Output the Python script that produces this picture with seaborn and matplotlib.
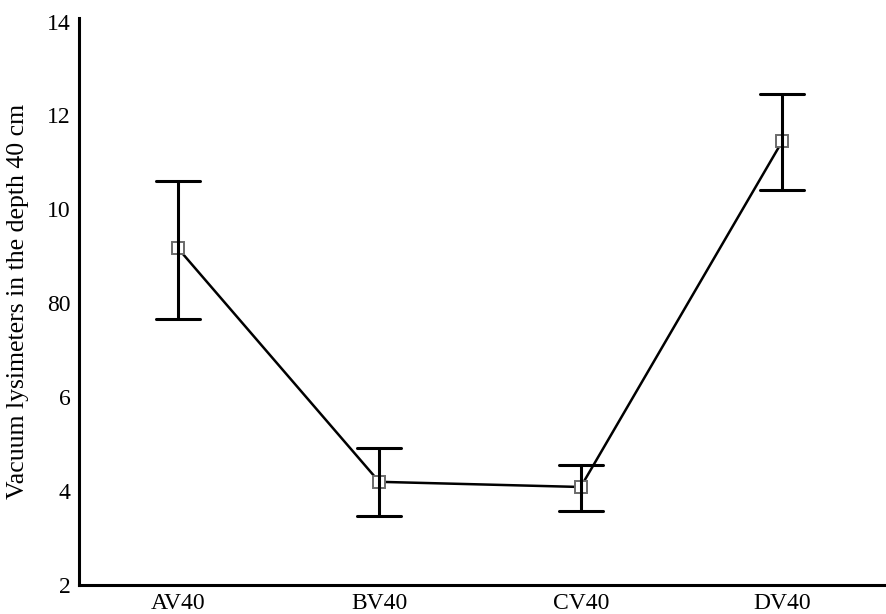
import matplotlib
matplotlib.use("Agg")
import matplotlib.pyplot as plt
import seaborn as sns
import numpy as np
import pandas as pd

categories = ["AV40", "BV40", "CV40", "DV40"]
means = [9.18, 4.20, 4.09, 11.45]
lower = [7.67, 3.48, 3.58, 10.42]
upper = [10.61, 4.91, 4.56, 12.45]
ytick_values = [2, 4, 6, 8, 10, 12, 14]
ytick_labels = ["2", "4", "6", "80", "10", "12", "14"]
ylabel = "Vacuum lysimeters in the depth 40 cm"

sns.set_style("white")
plt.rcParams["font.family"] = ["Liberation Serif", "DejaVu Serif"]
plt.rcParams["text.color"] = "black"
plt.rcParams["axes.labelcolor"] = "black"
plt.rcParams["xtick.labelcolor"] = "black"
plt.rcParams["ytick.labelcolor"] = "black"

rows = []
for c, lo, m, hi in zip(categories, lower, means, upper):
    for v in (lo, m, hi):
        rows.append({"cat": c, "val": v})
df = pd.DataFrame(rows)

fig = plt.figure(figsize=(8.87, 6.14), dpi=100)
ax = fig.add_axes([0.089, 0.047, 0.911, 0.924])

sns.pointplot(data=df, x="cat", y="val", order=categories,
              estimator=np.median, errorbar=lambda x: (x.min(), x.max()),
              color="black", linewidth=1.8, capsize=0.22,
              err_kws={"linewidth": 2.2},
              markers="s", markersize=8,
              markerfacecolor="white", markeredgecolor="#6a6a6a",
              markeredgewidth=1.4, ax=ax)

ax.set_xlim(-0.49, 3.52)
ax.set_ylim(2, 14.08)
ax.set_yticks(ytick_values)
ax.set_yticklabels(ytick_labels, fontsize=17)
ax.tick_params(axis="x", labelsize=17, length=3, width=0.6, color="#bbbbbb",
               labelcolor="black", pad=3)
ax.tick_params(axis="y", length=3, width=0.6, color="#bbbbbb",
               labelcolor="black", pad=3)
ax.set_xlabel("")
ax.set_ylabel(ylabel, fontsize=18.5, labelpad=13, color="black")

for s in ["top", "right"]:
    ax.spines[s].set_visible(False)
for s in ["left", "bottom"]:
    ax.spines[s].set_color("black")
    ax.spines[s].set_linewidth(2.2)

fig.savefig("out.png", dpi=100)
